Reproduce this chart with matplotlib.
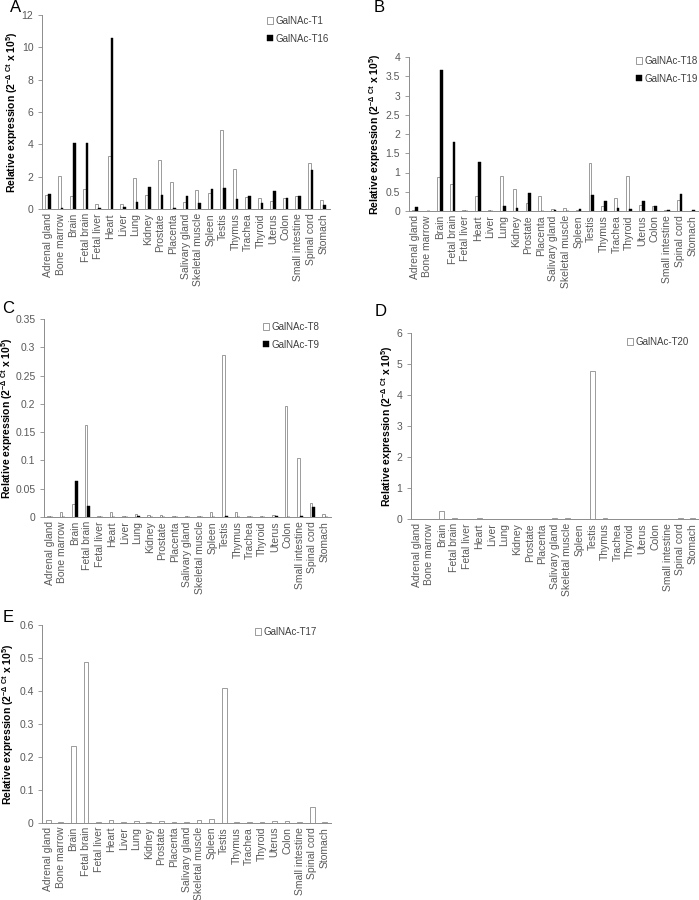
import numpy as np
import matplotlib
matplotlib.use('Agg')
import matplotlib.pyplot as plt
from matplotlib.ticker import MultipleLocator, FormatStrFormatter

plt.rcParams['font.family'] = ['Liberation Sans', 'DejaVu Sans']
plt.rcParams['mathtext.fontset'] = 'custom'
plt.rcParams['mathtext.rm'] = 'Liberation Sans'
plt.rcParams['mathtext.bf'] = 'Liberation Sans:bold'

tissues = ['Adrenal gland', 'Bone marrow', 'Brain', 'Fetal brain', 'Fetal liver',
           'Heart', 'Liver', 'Lung', 'Kidney', 'Prostate', 'Placenta',
           'Salivary gland', 'Skeletal muscle', 'Spleen', 'Testis', 'Thymus',
           'Trachea', 'Thyroid', 'Uterus', 'Colon', 'Small intestine',
           'Spinal cord', 'Stomach']

# panel A
t1 = [0.85, 2.05, 0.8, 1.25, 0.3, 3.25, 0.32, 1.9, 0.86, 3.05, 1.65, 0.42,
      1.2, 1.02, 4.9, 2.45, 0.74, 0.67, 0.5, 0.7, 0.8, 2.85, 0.58]
t16 = [0.92, 0.05, 4.1, 4.1, 0.05, 10.6, 0.15, 0.45, 1.35, 0.86, 0.05, 0.82,
       0.38, 1.24, 1.32, 0.6, 0.78, 0.4, 1.09, 0.7, 0.82, 2.4, 0.22]
# panel B
t18 = [0.02, 0.01, 0.88, 0.7, 0.03, 0.38, 0.03, 0.91, 0.57, 0.2, 0.38, 0.05,
       0.09, 0.03, 1.25, 0.13, 0.33, 0.92, 0.16, 0.13, 0.03, 0.28, 0.01]
t19 = [0.1, 0.01, 3.67, 1.8, 0.01, 1.28, 0.01, 0.13, 0.07, 0.47, 0.01, 0.03,
       0.01, 0.05, 0.41, 0.25, 0.08, 0.05, 0.26, 0.12, 0.03, 0.45, 0.03]
# panel C
t8 = [0.001, 0.008, 0.023, 0.163, 0.001, 0.009, 0.001, 0.005, 0.003, 0.004,
      0.001, 0.001, 0.001, 0.009, 0.287, 0.008, 0.001, 0.001, 0.003, 0.196,
      0.104, 0.024, 0.006]
t9 = [0.0, 0.0, 0.063, 0.02, 0.0, 0.0, 0.0, 0.001, 0.0, 0.0, 0.0, 0.0, 0.0,
      0.0, 0.001, 0.0, 0.0, 0.0, 0.001, 0.0, 0.001, 0.018, 0.0]
# panel D
t20 = [0.0, 0.0, 0.25, 0.02, 0.0, 0.02, 0.0, 0.0, 0.0, 0.0, 0.0, 0.02, 0.02,
       0.0, 4.78, 0.02, 0.0, 0.0, 0.0, 0.0, 0.0, 0.02, 0.02]
# panel E
t17 = [0.008, 0.002, 0.232, 0.49, 0.002, 0.008, 0.002, 0.004, 0.002, 0.004,
       0.002, 0.002, 0.007, 0.01, 0.411, 0.002, 0.002, 0.002, 0.004, 0.005,
       0.002, 0.049, 0.002]

W, H = 699, 900
fig = plt.figure(figsize=(W / 100, H / 100), dpi=100)

ylab = r'Relative expression (2$^{\mathbf{-\Delta\ Ct}}$ x 10$^{\mathbf{5}}$)'
gray = '#595959'
edge = '#8c8c8c'


def panel(box, series, names, ymax, step, leg_xy, lab_x, letter, let_xy):
    left, right, top, bottom = box
    ax = fig.add_axes([left / W, 1 - bottom / H, (right - left) / W, (bottom - top) / H])
    x = np.arange(len(tissues))
    if len(series) == 2:
        w = 0.22
        ax.bar(x - w / 2, series[0], w, color='white', edgecolor=edge, linewidth=0.6, label=names[0])
        ax.bar(x + w / 2, series[1], w, color='black', edgecolor='black', linewidth=0.3, label=names[1])
    else:
        ax.bar(x, series[0], 0.38, color='white', edgecolor=edge, linewidth=0.6, label=names[0])
    ax.set_xlim(-0.5, len(tissues) - 0.5)
    ax.set_ylim(0, ymax)
    ax.yaxis.set_major_locator(MultipleLocator(step))
    ax.yaxis.set_major_formatter(FormatStrFormatter('%g'))
    ax.set_xticks(x)
    ax.set_xticklabels(tissues, rotation=90, fontsize=7.5, color=gray)
    ax.tick_params(axis='x', length=0, pad=3)
    ax.tick_params(axis='y', length=3, width=0.6, color=edge, labelsize=7.5,
                   labelcolor=gray, pad=3)
    for s in ['top', 'right']:
        ax.spines[s].set_visible(False)
    for s in ['left', 'bottom']:
        ax.spines[s].set_color(edge)
        ax.spines[s].set_linewidth(0.7)
    ax.set_ylabel(ylab, fontsize=7.5, fontweight='bold')
    ax.yaxis.set_label_coords(lab_x / W, 1 - (top + bottom) / 2 / H, transform=fig.transFigure)
    ax.legend(loc='upper left', bbox_to_anchor=(leg_xy[0] / W, 1 - leg_xy[1] / H),
              bbox_transform=fig.transFigure, frameon=False, fontsize=7,
              handlelength=0.6, handleheight=0.6, handletextpad=0.3,
              labelspacing=0.8, borderpad=0, borderaxespad=0,
              labelcolor='#404040')
    fig.text(let_xy[0] / W, 1 - let_xy[1] / H, letter, fontsize=12,
             ha='center', va='center')
    return ax


panel((41.75, 329.5, 15, 209), [t1, t16], ['GalNAc-T1', 'GalNAc-T16'], 12, 2,
      (267, 16), 20, 'A', (16, 8))
panel((408.5, 698.5, 57, 211), [t18, t19], ['GalNAc-T18', 'GalNAc-T19'], 4, 0.5,
      (636, 56), 383, 'B', (379, 8))
panel((43.75, 331, 319, 517), [t8, t9], ['GalNAc-T8', 'GalNAc-T9'], 0.35, 0.05,
      (263, 322), 15, 'C', (8, 309))
panel((410.5, 699, 333, 519), [t20], ['GalNAc-T20'], 6, 1,
      (627, 337), 395, 'D', (381, 311))
panel((42, 331, 625.4, 822.7), [t17], ['GalNAc-T17'], 0.6, 0.1,
      (255, 627), 16, 'E', (8, 617))

fig.savefig('out.png', dpi=100)
